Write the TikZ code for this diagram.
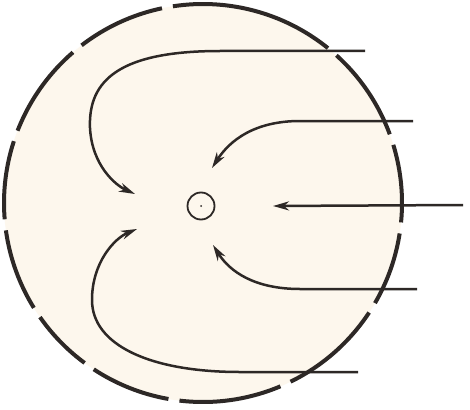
\documentclass[tikz,border=0pt]{standalone}
\usetikzlibrary{arrows.meta}
\definecolor{peach}{RGB}{253,247,237}
\definecolor{ink}{RGB}{45,40,38}
\tikzset{
  rim/.style={draw=ink,line width=4pt},
  flow/.style={draw=ink,line width=2.5pt,-{Stealth[length=16pt,width=9pt,inset=5pt]}},
  core/.style={circle,draw=ink,line width=1.8pt,minimum size=27pt,inner sep=0pt}
}
\begin{document}
\begin{tikzpicture}[x=1pt,y=-1pt]
\useasboundingbox (0,0) rectangle (470,409);
\fill[white] (0,0) rectangle (470,409);
\coordinate (O) at (203,203);
\fill[peach] (O) circle (199);
% dashed rim: each dash between gaps (math angles, y up)
\foreach \a/\b in {51.1/98.7, 101.9/127.6, 130.8/158.7, 161.9/184.7, 187.9/211.8,
                   215.0/233.5, 236.7/260.0, 263.2/292.9, 296.1/326.6, 329.8/351.2,
                   354.4/377.0, 380.2/407.9}{
  \draw[rim] ([shift={(-\a:199)}]O) arc (-\a:-\b:199);
}
% central small circle
\node[core] (c) at (201,206) {};
\fill[ink] (c.center) circle (1);
% start and tip points
\coordinate (s1) at (365,51);   \coordinate (t1) at (135,194);
\coordinate (s2) at (413,121);  \coordinate (t2) at (212,168);
\coordinate (s3) at (463,205);  \coordinate (t3) at (273,206);
\coordinate (s4) at (417,289);  \coordinate (t4) at (213,245);
\coordinate (s5) at (358,372);  \coordinate (t5) at (137,229);
% arrows
\draw[flow] (s1) -- (220,51) .. controls (120,51) and (88,80) .. (90,128)
             .. controls (92,165) and (115,185) .. (t1);
\draw[flow] (s2) -- (300,121) .. controls (255,121) and (230,140) .. (t2);
\draw[flow] (s3) -- (t3);
\draw[flow] (s4) -- (300,289) .. controls (255,289) and (230,272) .. (t4);
\draw[flow] (s5) -- (240,372) .. controls (150,372) and (92,345) .. (92,300)
             .. controls (92,262) and (115,238) .. (t5);
\end{tikzpicture}
\end{document}
